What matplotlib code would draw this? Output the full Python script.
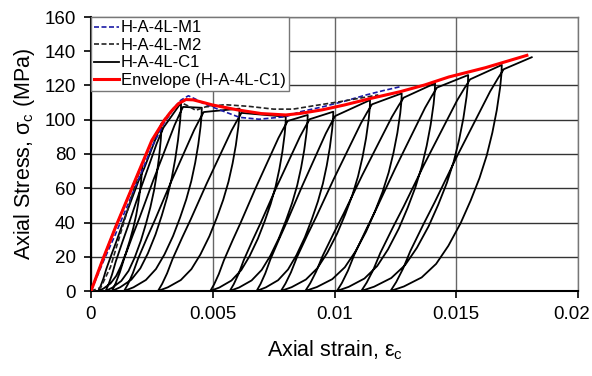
import numpy as np
import matplotlib
matplotlib.use("Agg")
import matplotlib.pyplot as plt
from matplotlib.transforms import ScaledTranslation

plt.rcParams['font.family'] = ['Liberation Sans', 'DejaVu Sans']
plt.rcParams['mathtext.fontset'] = 'custom'
plt.rcParams['mathtext.rm'] = 'Liberation Sans'
plt.rcParams['mathtext.it'] = 'Liberation Sans:italic'

# ---------------- data ----------------
env_strain = [0, 0.0005, 0.001, 0.0015, 0.002, 0.0025, 0.003, 0.0033, 0.0036, 0.0039,
              0.0042, 0.0045, 0.005, 0.006, 0.007, 0.008, 0.0086, 0.0095, 0.0104,
              0.0115, 0.0127, 0.0137, 0.0147, 0.0162, 0.0179]
env_stress = [0, 19, 37, 54, 71, 88, 99.5, 105, 109.5, 111.8,
              111.6, 110.5, 108.6, 105.8, 103.6, 102.8, 103.7, 105.8, 108.6,
              112.5, 116.4, 120.3, 125, 130.4, 137.6]

m1_strain = [0, 0.0005, 0.001, 0.0015, 0.002, 0.0025, 0.003, 0.0035, 0.0037, 0.0040,
             0.0043, 0.0046, 0.0053, 0.0061, 0.0069, 0.0080, 0.0086, 0.0095, 0.0104,
             0.0113, 0.0120, 0.0127]
m1_stress = [0, 17, 33, 50, 67, 84, 98, 108.5, 111.5, 114,
             112, 109.6, 105.7, 101.4, 100.3, 101.8, 104.7, 107.5, 110.8,
             114.5, 117, 119.3]

m2_strain = [0, 0.0004, 0.0008, 0.0012, 0.0016, 0.002, 0.0025, 0.003, 0.0034, 0.0037,
             0.0040, 0.0043, 0.0047, 0.0055, 0.0065, 0.0075, 0.0083, 0.0092, 0.0102,
             0.0112, 0.0118]
m2_stress = [0, 2, 14, 33, 52, 70, 87, 100, 107, 110,
             108, 105.5, 107.5, 108.8, 107.8, 106.2, 106.2, 108.3, 110.5,
             113, 114.5]

# cyclic test H-A-4L-C1: unloading points, residual strains, final point
unload_strain = [0.0021, 0.0029, 0.0037, 0.00455, 0.0061, 0.0080, 0.0089, 0.00995,
                 0.01146, 0.01276, 0.01413, 0.01549, 0.01687]
unload_stress = [74, 98, 110, 107, 106.5, 101.8, 102.8, 104.7,
                 111.5, 115.4, 121.3, 126.1, 132]
residual_strain = [0.0003, 0.0006, 0.00086, 0.00136, 0.00275, 0.0049, 0.0057, 0.0068,
                   0.0078, 0.0088, 0.0101, 0.0111, 0.0123]
c1_end_strain = 0.0181
c1_end_stress = 136.5

# loop shape read from the last loop (fraction of stress -> fraction of strain span)
unload_s = [1, 0.96, 0.9, 0.8, 0.7, 0.6, 0.5, 0.4, 0.3, 0.2, 0.12, 0.06, 0.02, 0]
unload_f = [1, 0.997, 0.985, 0.955, 0.915, 0.865, 0.8, 0.72, 0.63, 0.52, 0.41, 0.28, 0.12, 0]
reload_s = [0, 0.04, 0.1, 0.18, 0.3, 0.4, 0.5, 0.6, 0.7, 0.8, 0.9, 0.96, 1]
reload_f = [0, 0.05, 0.11, 0.175, 0.29, 0.39, 0.485, 0.58, 0.68, 0.78, 0.88, 0.95, 1]

x_ticks = [0, 0.005, 0.01, 0.015, 0.02]
x_tick_labels = ['0', '0.005', '0.01', '0.015', '0.02']
y_ticks = [0, 20, 40, 60, 80, 100, 120, 140, 160]

# ---------------- build C1 path ----------------
cx, cy = [], []
for e, s in zip(env_strain, env_stress):
    if e < unload_strain[0]:
        cx.append(e); cy.append(s)
for eu, su, ep in zip(unload_strain, unload_stress, residual_strain):
    for s, f in zip(unload_s, unload_f):
        cx.append(ep + f * (eu - ep)); cy.append(s * su)
    eu2, su2 = eu + 0.00008, su - 2.5
    for s, f in zip(reload_s[1:], reload_f[1:]):
        cx.append(ep + f * (eu2 - ep)); cy.append(s * su2)
cx.append(c1_end_strain); cy.append(c1_end_stress)

# ---------------- plot ----------------
fig = plt.figure(figsize=(5.92, 3.76), dpi=100)
ax = fig.add_axes([91/592, 1-291/376, 487/592, 274/376])

ax.plot(m1_strain, m1_stress, color='#1a1aa6', lw=1.2, ls=(0, (3, 1.5)), label='H-A-4L-M1', zorder=3)
ax.plot(m2_strain, m2_stress, color='#222222', lw=1.2, ls=(0, (3, 1.5)), label='H-A-4L-M2', zorder=3)
ax.plot(cx, cy, color='black', lw=1.3, label='H-A-4L-C1', zorder=2)
ax.plot(env_strain, env_stress, color='#ff0000', lw=2.2, label='Envelope (H-A-4L-C1)', zorder=4)

ax.set_xlim(0, 0.02)
ax.set_ylim(0, 160)
ax.set_xticks(x_ticks)
ax.set_xticklabels(x_tick_labels)
ax.set_yticks(y_ticks)

ax.grid(True, axis='x', color='#666666', lw=1.0)
ax.grid(True, axis='y', color='#333333', lw=1.0)
ax.set_axisbelow(True)

for sp in ['left', 'bottom']:
    ax.spines[sp].set_color('black'); ax.spines[sp].set_linewidth(1.5)
for sp in ['top', 'right']:
    ax.spines[sp].set_color('#777777'); ax.spines[sp].set_linewidth(1.0)
ax.tick_params(direction='out', length=5, width=1.2, labelsize=13.5, pad=6)

# keep the last x tick label inside the figure
last = ax.get_xticklabels()[-1]
last.set_transform(last.get_transform() + ScaledTranslation(-6/100, 0, fig.dpi_scale_trans))

ax.set_xlabel('Axial strain, ε$_\\mathrm{c}$', fontsize=15.5, labelpad=11)
ax.set_ylabel('Axial Stress, σ$_\\mathrm{c}$ (MPa)', fontsize=15.5, labelpad=5)

leg = ax.legend(loc='upper left', bbox_to_anchor=(0, 1), borderaxespad=0, fancybox=False,
                edgecolor='#777777', framealpha=1, fontsize=12, handlelength=1.5,
                labelspacing=0.15, borderpad=0.2, handletextpad=0.1)
leg.get_frame().set_linewidth(1.0)

fig.savefig('out.png', dpi=100)
